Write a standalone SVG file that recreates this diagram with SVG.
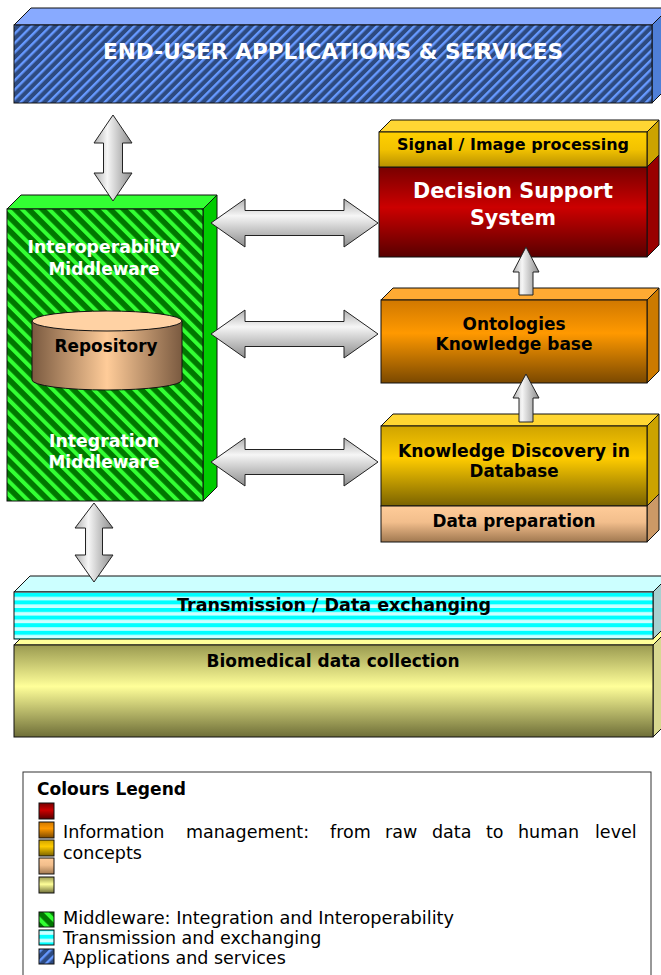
<svg xmlns="http://www.w3.org/2000/svg" width="661" height="975" viewBox="0 0 661 975">
<style>
.bx{stroke:#111;stroke-width:1}
.b{font-family:"DejaVu Sans",Verdana,sans-serif;font-weight:bold;text-anchor:middle}
.w{fill:#fff}
.k{fill:#000}
.lg{font-family:"DejaVu Sans",Verdana,sans-serif;font-size:17.5px;fill:#000}
.ar{stroke:#222;stroke-width:1}
</style>
<defs>
<pattern id="pBlue" patternUnits="userSpaceOnUse" width="6.6" height="10" patternTransform="rotate(45)">
<rect width="6.6" height="10" fill="#2D4A80"/><rect width="2.4" height="10" fill="#6699FF"/>
</pattern>
<pattern id="pGreen" patternUnits="userSpaceOnUse" width="9.6" height="10" patternTransform="rotate(-45)">
<rect width="9.6" height="10" fill="#007700"/><rect width="4" height="10" fill="#33FF33"/>
</pattern>
<pattern id="pCyan" patternUnits="userSpaceOnUse" width="10" height="7.6">
<rect width="10" height="7.6" fill="#CCFFFF"/><rect y="0" width="10" height="4" fill="#00FFFF"/>
</pattern>
<linearGradient id="gRed" x1="0" y1="0" x2="0" y2="1"><stop offset="0" stop-color="#780000"/><stop offset="0.45" stop-color="#CC0000"/><stop offset="1" stop-color="#580000"/></linearGradient>
<linearGradient id="gSig" x1="0" y1="0" x2="0" y2="1"><stop offset="0" stop-color="#FFD000"/><stop offset="0.5" stop-color="#F2C200"/><stop offset="1" stop-color="#B89000"/></linearGradient>
<linearGradient id="gOr" x1="0" y1="0" x2="0" y2="1"><stop offset="0" stop-color="#D07800"/><stop offset="0.4" stop-color="#FF9900"/><stop offset="1" stop-color="#7A4800"/></linearGradient>
<linearGradient id="gKdd" x1="0" y1="0" x2="0" y2="1"><stop offset="0" stop-color="#D0A400"/><stop offset="0.4" stop-color="#FFCC00"/><stop offset="1" stop-color="#7A6200"/></linearGradient>
<linearGradient id="gPeach" x1="0" y1="0" x2="0" y2="1"><stop offset="0" stop-color="#FFCC99"/><stop offset="0.45" stop-color="#F2BE8C"/><stop offset="1" stop-color="#A07850"/></linearGradient>
<linearGradient id="gYel" x1="0" y1="0" x2="0" y2="1"><stop offset="0" stop-color="#9A9A50"/><stop offset="0.45" stop-color="#FFFF99"/><stop offset="1" stop-color="#6E6E38"/></linearGradient>
<linearGradient id="gArH" x1="0" y1="0" x2="0" y2="1"><stop offset="0" stop-color="#B0B0B0"/><stop offset="0.35" stop-color="#F6F6F6"/><stop offset="1" stop-color="#8C8C8C"/></linearGradient>
<linearGradient id="gArV" x1="0" y1="0" x2="1" y2="0"><stop offset="0" stop-color="#B0B0B0"/><stop offset="0.35" stop-color="#F6F6F6"/><stop offset="1" stop-color="#8C8C8C"/></linearGradient>
<linearGradient id="gCyl" x1="0" y1="0" x2="1" y2="0"><stop offset="0" stop-color="#7A5A40"/><stop offset="0.5" stop-color="#FFCC99"/><stop offset="1" stop-color="#7A5A40"/></linearGradient>
</defs>

<g id="apps">
<polygon class="bx" points="14,25 31,8 669,8 652,25" fill="#88AAFF"/>
<polygon class="bx" points="652,25 669,8 669,86 652,103" fill="#4F7FD8"/>
<rect class="bx" x="14" y="25" width="638" height="78" fill="url(#pBlue)"/>
<text class="b w" x="333" y="59" font-size="22" textLength="460" lengthAdjust="spacingAndGlyphs">END-USER APPLICATIONS &amp; SERVICES</text>
</g>

<g id="middleware">
<polygon class="bx" points="7,209 21,195 217,195 203,209" fill="#33FF33"/>
<polygon class="bx" points="203,209 217,195 217,487 203,501" fill="#00CC00"/>
<rect class="bx" x="7" y="209" width="196" height="292" fill="url(#pGreen)"/>
<text class="b w" x="104" y="253" font-size="17" textLength="153" lengthAdjust="spacingAndGlyphs">Interoperability</text>
<text class="b w" x="104" y="275" font-size="17" textLength="111" lengthAdjust="spacingAndGlyphs">Middleware</text>
<text class="b w" x="104" y="447" font-size="17" textLength="110" lengthAdjust="spacingAndGlyphs">Integration</text>
<text class="b w" x="104" y="468" font-size="17" textLength="111" lengthAdjust="spacingAndGlyphs">Middleware</text>
</g>

<g id="repository">
<path class="bx" d="M32,321 L32,380 A75,10 0 0 0 182,380 L182,321 Z" fill="url(#gCyl)"/>
<ellipse class="bx" cx="107" cy="321" rx="75" ry="10" fill="#FFD2A4"/>
<text class="b k" x="106" y="352" font-size="17" textLength="103" lengthAdjust="spacingAndGlyphs">Repository</text>
</g>

<g id="dss">
<polygon class="bx" points="647,167 659,155 659,245 647,257" fill="#990000"/>
<rect class="bx" x="379" y="167" width="268" height="90" fill="url(#gRed)"/>
<text class="b w" x="513" y="198" font-size="21" textLength="200" lengthAdjust="spacingAndGlyphs">Decision Support</text>
<text class="b w" x="513" y="225" font-size="21" textLength="86" lengthAdjust="spacingAndGlyphs">System</text>
</g>

<g id="signal">
<polygon class="bx" points="379,132 391,120 659,120 647,132" fill="#FFD633"/>
<polygon class="bx" points="647,132 659,120 659,155 647,167" fill="#CCA300"/>
<rect class="bx" x="379" y="132" width="268" height="35" fill="url(#gSig)"/>
<text class="b k" x="513" y="150" font-size="16" textLength="232" lengthAdjust="spacingAndGlyphs">Signal / Image processing</text>
</g>

<g id="ontologies">
<polygon class="bx" points="381,300 393,288 659,288 647,300" fill="#FFAA33"/>
<polygon class="bx" points="647,300 659,288 659,371 647,383" fill="#CC7A00"/>
<rect class="bx" x="381" y="300" width="266" height="83" fill="url(#gOr)"/>
<text class="b k" x="514" y="330" font-size="17" textLength="103" lengthAdjust="spacingAndGlyphs">Ontologies</text>
<text class="b k" x="514" y="350" font-size="17" textLength="157" lengthAdjust="spacingAndGlyphs">Knowledge base</text>
</g>

<g id="kdd">
<polygon class="bx" points="381,426 393,414 659,414 647,426" fill="#FFD633"/>
<polygon class="bx" points="647,426 659,414 659,494 647,506" fill="#CCA300"/>
<rect class="bx" x="381" y="426" width="266" height="80" fill="url(#gKdd)"/>
<text class="b k" x="514" y="457" font-size="17" textLength="232" lengthAdjust="spacingAndGlyphs">Knowledge Discovery in</text>
<text class="b k" x="514" y="477" font-size="17" textLength="89" lengthAdjust="spacingAndGlyphs">Database</text>
</g>

<g id="dataprep">
<polygon class="bx" points="647,506 659,494 659,530 647,542" fill="#CC9966"/>
<rect class="bx" x="381" y="506" width="266" height="36" fill="url(#gPeach)"/>
<text class="b k" x="514" y="527" font-size="17" textLength="163" lengthAdjust="spacingAndGlyphs">Data preparation</text>
</g>

<g id="biomedical">
<polygon class="bx" points="14,645 30,629 669,629 653,645" fill="#FFFF99"/>
<polygon class="bx" points="653,645 669,629 669,721 653,737" fill="#D8D890"/>
<rect class="bx" x="14" y="645" width="639" height="92" fill="url(#gYel)"/>
<text class="b k" x="333" y="667" font-size="17" textLength="253" lengthAdjust="spacingAndGlyphs">Biomedical data collection</text>
</g>

<g id="transmission">
<polygon class="bx" points="14,592 30,576 669,576 653,592" fill="#CCFFFF"/>
<polygon class="bx" points="653,592 669,576 669,623 653,639" fill="#A8D0D0"/>
<rect class="bx" x="14" y="592" width="639" height="47" fill="url(#pCyan)"/>
<text class="b k" x="334" y="611" font-size="17" textLength="314" lengthAdjust="spacingAndGlyphs">Transmission / Data exchanging</text>
</g>

<g id="connectors">
<polygon class="ar" fill="url(#gArV)" points="113,115 132,143 122.5,143 122.5,173 132,173 113,201 94,173 103.5,173 103.5,143 94,143"/>
<polygon class="ar" fill="url(#gArV)" points="94,503 113,528 102.5,528 102.5,555 113,555 94,582 75,555 85.5,555 85.5,528 75,528"/>
<polygon class="ar" fill="url(#gArH)" points="211,223 245,199 245,210.5 344,210.5 344,199 378,223 344,247 344,235.5 245,235.5 245,247"/>
<polygon class="ar" fill="url(#gArH)" points="211,334 245,310 245,321.5 344,321.5 344,310 378,334 344,358 344,346.5 245,346.5 245,358"/>
<polygon class="ar" fill="url(#gArH)" points="211,462 245,438 245,449.5 344,449.5 344,438 378,462 344,486 344,474.5 245,474.5 245,486"/>
<polygon class="ar" fill="url(#gArV)" points="526,247 539,272 533,272 533,295 519,295 519,272 513,272"/>
<polygon class="ar" fill="url(#gArV)" points="526,374 539,398 533,398 533,422 519,422 519,398 513,398"/>
</g>

<g id="legend">
<rect x="23" y="772" width="628" height="215" fill="#fff" stroke="#333" stroke-width="1"/>
<text x="37" y="795" font-family="'DejaVu Sans',Verdana,sans-serif" font-weight="bold" font-size="17" fill="#000" textLength="149" lengthAdjust="spacingAndGlyphs">Colours Legend</text>
<rect class="bx" x="39" y="803" width="15" height="16" fill="url(#gRed)"/>
<rect class="bx" x="39" y="822" width="15" height="16" fill="url(#gOr)"/>
<rect class="bx" x="39" y="840" width="15" height="16" fill="url(#gKdd)"/>
<rect class="bx" x="39" y="858" width="15" height="16" fill="url(#gPeach)"/>
<rect class="bx" x="39" y="877" width="15" height="16" fill="url(#gYel)"/>
<rect class="bx" x="39" y="912" width="15" height="15" fill="url(#pGreen)"/>
<rect class="bx" x="39" y="930" width="15" height="15" fill="url(#pCyan)"/>
<rect class="bx" x="39" y="949" width="15" height="15" fill="url(#pBlue)"/>
<text class="lg" y="838"><tspan x="63">Information</tspan><tspan x="186">management:</tspan><tspan x="330">from</tspan><tspan x="385">raw</tspan><tspan x="432">data</tspan><tspan x="486">to</tspan><tspan x="518">human</tspan><tspan x="595">level</tspan></text>
<text class="lg" x="63" y="859">concepts</text>
<text class="lg" x="63" y="924" textLength="391" lengthAdjust="spacingAndGlyphs">Middleware: Integration and Interoperability</text>
<text class="lg" x="63" y="944">Transmission and exchanging</text>
<text class="lg" x="63" y="964">Applications and services</text>
</g>
</svg>
